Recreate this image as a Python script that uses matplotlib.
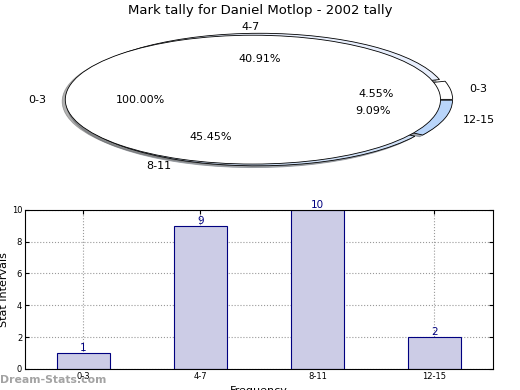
import matplotlib
matplotlib.use("Agg")
import matplotlib.pyplot as plt

# Data
categories = ["0-3", "4-7", "8-11", "12-15"]
counts = [1, 9, 10, 2]
inner_labels = ["0-3"]
inner_values = [1]
pie_colors = ["#ffffff", "#e8effd", "#cfe0f7", "#b9d5fa"]
title = "Mark tally for Daniel Motlop - 2002 tally"

fig = plt.figure(figsize=(5.2, 3.9), dpi=100)

# Pie chart (squashed, not equal aspect)
ax1 = fig.add_axes([0.048, 0.538, 0.902, 0.413])
shadow = dict(ox=-0.012, oy=-0.02, shade=0.6)
ax1.pie(counts, labels=categories, colors=pie_colors, explode=[0.03] * 4,
        autopct="%1.2f%%", startangle=0, shadow=shadow,
        wedgeprops=dict(edgecolor="black", linewidth=0.6),
        textprops=dict(fontsize=8))
ax1.pie(inner_values, labels=inner_labels, colors=["white"], explode=[0.035],
        autopct="%1.2f%%", startangle=0, shadow=shadow,
        wedgeprops=dict(edgecolor="black", linewidth=0.6),
        textprops=dict(fontsize=8))
ax1.set_aspect("auto")
ax1.set_xlim(-1.25, 1.25)
ax1.set_ylim(-1.25, 1.25)
fig.text(0.5, 0.972, title, ha="center", va="center", fontsize=9.5)

# Bar chart
ax2 = fig.add_axes([0.048, 0.054, 0.9, 0.408])
xs = range(len(categories))
ax2.bar(xs, counts, width=0.45, color="#ccccE6", edgecolor="#000080", linewidth=0.8, zorder=2)
for x, c in zip(xs, counts):
    ax2.text(x, c, str(c), ha="center", va="bottom", color="#000080", fontsize=7.5, zorder=3)
ax2.set_xlim(-0.5, 3.5)
ax2.set_ylim(0, 10)
ax2.set_xticks(list(xs))
ax2.set_xticklabels(categories, fontsize=6)
ax2.set_yticks([0, 2, 4, 6, 8, 10])
ax2.tick_params(axis="y", labelsize=6)
ax2.tick_params(direction="in", top=True, right=True, length=3, pad=2)
ax2.grid(True, linestyle=":", color="#999999", linewidth=0.8, zorder=0)
ax2.set_ylabel("Stat Intervals", fontsize=8, labelpad=2)
ax2.set_xlabel("Frequency", fontsize=8, labelpad=4)

fig.text(0.0, 0.025, "Dream-Stats.com", fontsize=7.8, fontweight="bold", color="#999999", alpha=0.9,
         ha="left", va="center")

fig.savefig("out.png", dpi=100)
